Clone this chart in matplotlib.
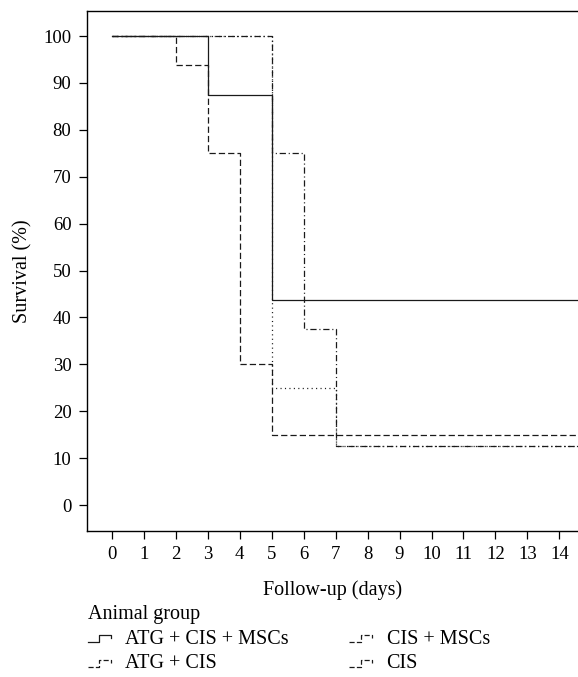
import numpy as np
import matplotlib
matplotlib.use('Agg')
from matplotlib import pyplot as plt
from matplotlib.legend_handler import HandlerBase
from matplotlib.lines import Line2D

# survival data (step functions, follow-up days)
groups = ['ATG + CIS + MSCs', 'ATG + CIS', 'CIS + MSCs', 'CIS']
days_atg_cis_mscs = [0, 3, 5, 15]
surv_atg_cis_mscs = [100, 87.5, 43.75, 43.75]
days_atg_cis = [0, 2, 3, 4, 5, 15]
surv_atg_cis = [100, 93.75, 75, 30, 15, 15]
days_cis_mscs = [0, 5, 6, 7, 15]
surv_cis_mscs = [100, 75, 37.5, 12.5, 12.5]
days_cis = [0, 5, 7, 15]
surv_cis = [100, 25, 12.5, 12.5]

x_ticks = list(range(0, 15))
y_ticks = list(range(0, 101, 10))

plt.rcParams['font.family'] = ['Liberation Serif', 'DejaVu Serif']
plt.rcParams['lines.scale_dashes'] = False

col = '#1a1a1a'
styles = ['-', (0, (4.5, 2.2)), (0, (4.5, 2.0, 0.8, 2.0)), (0, (0.8, 2.4))]


class StepHandler(HandlerBase):
    # small step glyph as legend key
    def create_artists(self, legend, orig_handle, xdescent, ydescent,
                       width, height, fontsize, trans):
        xs = np.array([0, 0.45, 0.45, 0.9, 0.9]) * width - xdescent
        ys = np.array([0.1, 0.1, 0.6, 0.6, 0.4]) * height - ydescent
        ln = Line2D(xs, ys, color=orig_handle.get_color(),
                    linestyle=orig_handle.get_linestyle(),
                    linewidth=orig_handle.get_linewidth())
        ln.set_transform(trans)
        return [ln]


fig = plt.figure(figsize=(5.78, 6.77), dpi=100)
ax = fig.add_axes([86.7 / 578, 1 - 531 / 677, 1 - 86.7 / 578, (531 - 10.7) / 677])

data = [(days_atg_cis_mscs, surv_atg_cis_mscs),
        (days_atg_cis, surv_atg_cis),
        (days_cis_mscs, surv_cis_mscs),
        (days_cis, surv_cis)]
zorders = [5, 4, 3, 2]
handles = []
for (d, s), ls, name, z in zip(data, styles, groups, zorders):
    h, = ax.step(d, s, where='post', color=col, lw=0.9, ls=ls, zorder=z, label=name)
    handles.append(h)

ax.set_xlim(-0.78, 14.58)
ax.set_ylim(-5.54, 105.4)
ax.set_xticks(x_ticks)
ax.set_yticks(y_ticks)
ax.spines['right'].set_visible(False)
for sp in ax.spines.values():
    sp.set_linewidth(1.0)
ax.tick_params(axis='both', direction='out', length=6, width=0.9, labelsize=13.5)
ax.tick_params(axis='y', pad=5)
ax.tick_params(axis='x', pad=5)

ax.set_xlabel('Follow-up (days)', fontsize=14.5)
ax.set_ylabel('Survival (%)', fontsize=14.5)
ax.xaxis.set_label_coords(0.5, -(590 - 531) / 520.3)
ax.xaxis.label.set_va('center')
ax.yaxis.set_label_coords(-(86.7 - 23) / 491.3, 0.5)
ax.yaxis.label.set_va('center')

leg = fig.legend(handles=handles, labels=groups, ncol=2, title='Animal group',
                 loc='upper left', bbox_to_anchor=(88 / 578, 1 - 605 / 677),
                 frameon=False, fontsize=14.5, title_fontsize=14.5,
                 handlelength=1.25, handletextpad=0.6, columnspacing=3.0,
                 labelspacing=0.28, borderpad=0, borderaxespad=0,
                 alignment='left',
                 handler_map={Line2D: StepHandler()})

fig.savefig('out.png', dpi=100)
